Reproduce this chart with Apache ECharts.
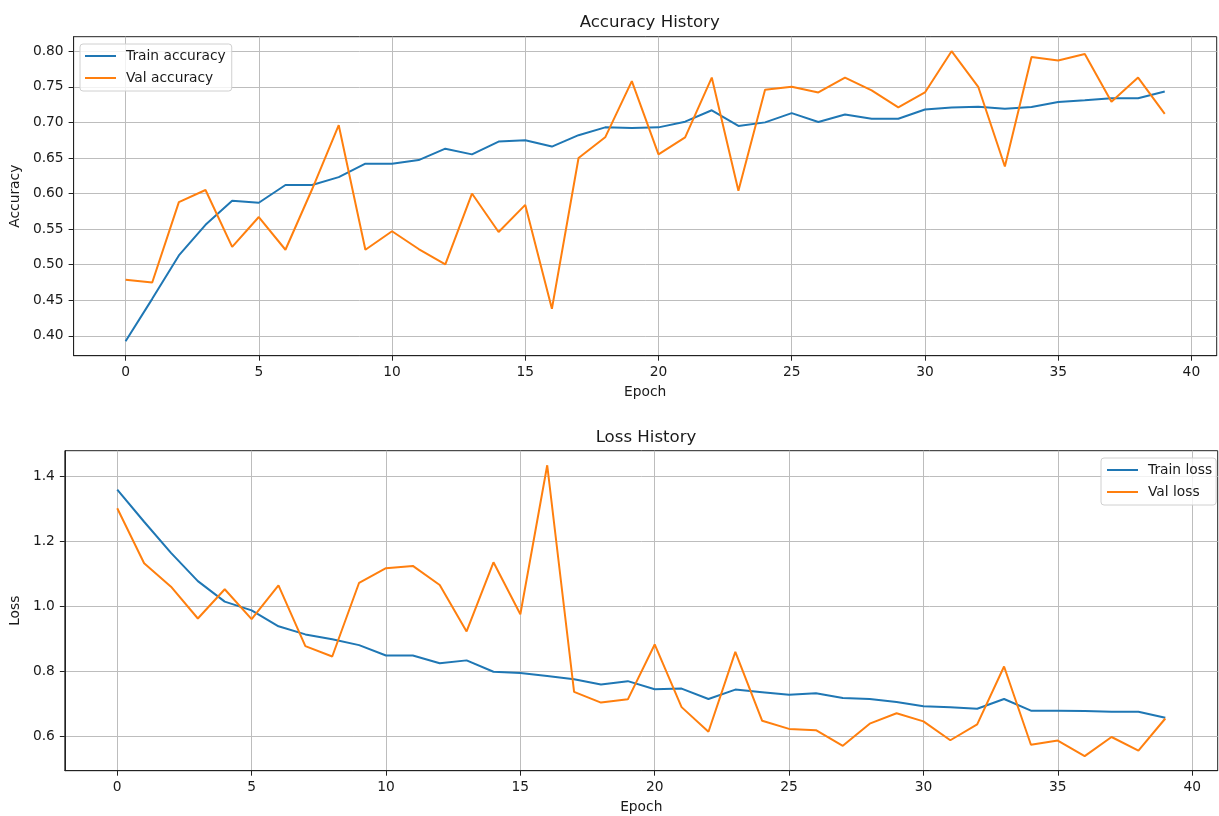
<!DOCTYPE html>
<html><head><meta charset="utf-8">
<script src="https://cdn.jsdelivr.net/npm/echarts@6/dist/echarts.min.js"></script>
<style>html,body{margin:0;padding:0;background:#fff}#c{width:1219px;height:816px}</style>
</head><body><div id="c"></div>
<script>
const epochs = [0,1,2,3,4,5,6,7,8,9,10,11,12,13,14,15,16,17,18,19,20,21,22,23,24,25,26,27,28,29,30,31,32,33,34,35,36,37,38,39];
const trainAcc = [0.3925,0.452,0.513,0.556,0.590,0.587,0.612,0.612,0.623,0.642,0.642,0.647,0.663,0.655,0.673,0.675,0.666,0.682,0.693,0.692,0.693,0.701,0.717,0.695,0.700,0.713,0.7005,0.711,0.705,0.705,0.718,0.721,0.722,0.719,0.7215,0.7285,0.731,0.734,0.734,0.7435];
const valAcc = [0.479,0.475,0.588,0.605,0.525,0.567,0.521,0.606,0.696,0.521,0.547,0.522,0.5005,0.600,0.546,0.584,0.438,0.650,0.679,0.758,0.655,0.679,0.763,0.604,0.746,0.750,0.742,0.763,0.745,0.721,0.742,0.800,0.750,0.638,0.792,0.787,0.796,0.729,0.763,0.712];
const trainLoss = [1.359,1.260,1.164,1.077,1.014,0.987,0.938,0.913,0.898,0.880,0.848,0.848,0.824,0.833,0.798,0.794,0.785,0.775,0.759,0.769,0.744,0.746,0.714,0.743,0.735,0.727,0.732,0.717,0.714,0.705,0.692,0.689,0.684,0.714,0.678,0.678,0.677,0.675,0.675,0.656];
const valLoss = [1.3015,1.132,1.060,0.962,1.052,0.960,1.064,0.877,0.845,1.072,1.117,1.124,1.065,0.922,1.135,0.975,1.434,0.736,0.703,0.713,0.882,0.689,0.613,0.859,0.647,0.622,0.618,0.570,0.638,0.670,0.645,0.587,0.636,0.814,0.573,0.586,0.538,0.597,0.555,0.654];
const xTicks = [0,5,10,15,20,25,30,35,40];
const accTicks = [0.40,0.45,0.50,0.55,0.60,0.65,0.70,0.75,0.80];
const lossTicks = [0.6,0.8,1.0,1.2,1.4];

const FONT = 'DejaVu Sans';
const FS = 13.8;
const TXT = '#1a1a1a';
const BLUE = '#1f77b4', ORANGE = '#ff7f0e';
const pairs = (ys) => epochs.map((e, i) => [e, ys[i]]);

function xAxisCfg(gridIndex) {
  return {
    type: 'value', gridIndex, min: -1.95, max: 40.95,
    name: 'Epoch', nameLocation: 'middle', nameGap: 30,
    nameTextStyle: { fontFamily: FONT, fontSize: FS, color: TXT },
    axisLine: { show: true, onZero: false, lineStyle: { color: '#222', width: 1 } },
    axisTick: { show: true, length: 5, customValues: xTicks, lineStyle: { color: '#222', width: 1 } },
    axisLabel: { customValues: xTicks, margin: 10, fontFamily: FONT, fontSize: FS, color: TXT },
    splitLine: { show: true, lineStyle: { color: '#bdbdbd', width: 1 } }
  };
}
function yAxisCfg(gridIndex, name, min, max, ticks, dec, gap) {
  return {
    type: 'value', gridIndex, min, max,
    name, nameLocation: 'middle', nameGap: gap,
    nameTextStyle: { fontFamily: FONT, fontSize: FS, color: TXT },
    axisLine: { show: true, onZero: false, lineStyle: { color: '#222', width: 1 } },
    axisTick: { show: true, length: 5, customValues: ticks, lineStyle: { color: '#222', width: 1 } },
    axisLabel: { customValues: ticks, margin: 10, fontFamily: FONT, fontSize: FS, color: TXT,
      formatter: (v) => Number(v).toFixed(dec) },
    splitLine: { show: true, lineStyle: { color: '#bdbdbd', width: 1 } }
  };
}
function lineSeries(name, data, color, xi, yi) {
  return { type: 'line', name, data: pairs(data), xAxisIndex: xi, yAxisIndex: yi,
    symbol: 'none', showSymbol: false, animation: false,
    lineStyle: { color, width: 2 }, itemStyle: { color } };
}
const legendBase = {
  orient: 'vertical', itemWidth: 31, itemHeight: 14, itemGap: 8,
  backgroundColor: 'rgba(255,255,255,0.8)', borderColor: '#d0d0d0', borderWidth: 1, borderRadius: 3,
  itemStyle: { opacity: 0 },
  textStyle: { fontFamily: FONT, fontSize: FS, color: TXT, padding: [0, 0, 0, 5] },
  selectedMode: false
};

const chart = echarts.init(document.getElementById('c'), null, { renderer: 'canvas' });
chart.setOption({
  animation: false,
  backgroundColor: '#fff',
  title: [
    { text: 'Accuracy History', left: 644.7, top: 9, textAlign: 'center',
      textStyle: { fontFamily: FONT, fontSize: 16.6, fontWeight: 'normal', color: TXT } },
    { text: 'Loss History', left: 641, top: 424, textAlign: 'center',
      textStyle: { fontFamily: FONT, fontSize: 16.6, fontWeight: 'normal', color: TXT } }
  ],
  grid: [
    { left: 72.7, top: 36.7, width: 1144, height: 319, show: true, borderColor: '#222', borderWidth: 1, backgroundColor: 'transparent' },
    { left: 64, top: 450.7, width: 1153.7, height: 320, show: true, borderColor: '#222', borderWidth: 1, backgroundColor: 'transparent' }
  ],
  legend: [
    Object.assign({}, legendBase, { data: ['Train accuracy', 'Val accuracy'], left: 80, top: 44, padding: [5, 6, 6, 4] }),
    Object.assign({}, legendBase, { data: ['Train loss', 'Val loss'], left: 1101, top: 458, padding: [5, 4, 6, 5] })
  ],
  xAxis: [xAxisCfg(0), xAxisCfg(1)],
  yAxis: [
    yAxisCfg(0, 'Accuracy', 0.3721, 0.8204, accTicks, 2, 49),
    yAxisCfg(1, 'Loss', 0.4932, 1.4788, lossTicks, 1, 39)
  ],
  series: [
    lineSeries('Train accuracy', trainAcc, BLUE, 0, 0),
    lineSeries('Val accuracy', valAcc, ORANGE, 0, 0),
    lineSeries('Train loss', trainLoss, BLUE, 1, 1),
    lineSeries('Val loss', valLoss, ORANGE, 1, 1)
  ]
});
</script>
</body></html>
